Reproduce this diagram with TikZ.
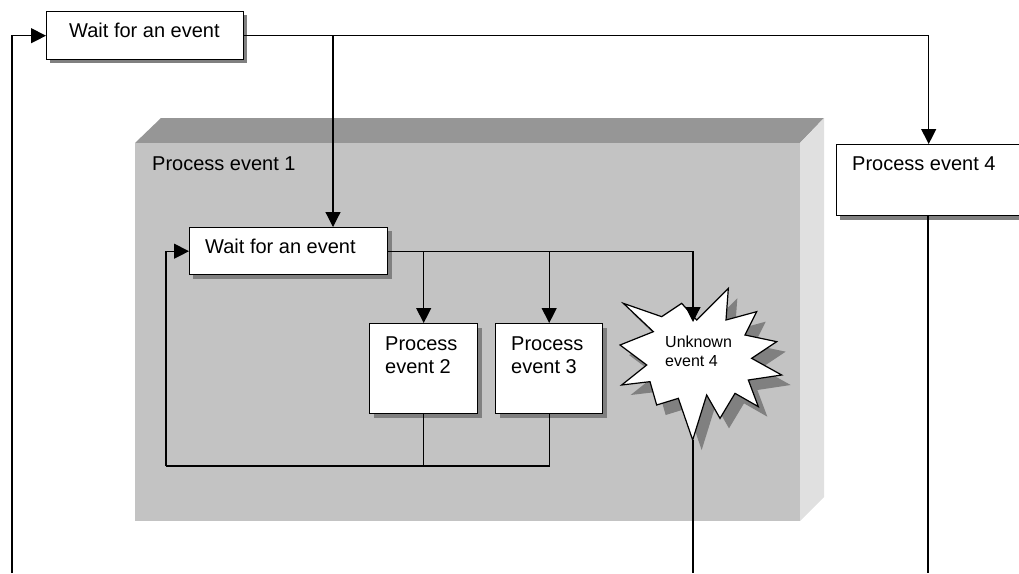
\documentclass[tikz,border=0pt]{standalone}
\usepackage{fontspec}
\setmainfont{Liberation Sans}
\usetikzlibrary{arrows.meta}
\definecolor{faceFront}{HTML}{C3C3C3}
\definecolor{faceTop}{HTML}{969696}
\definecolor{faceSide}{HTML}{E0E0E0}
\definecolor{dropgray}{HTML}{808080}
\tikzset{
  box/.style={draw=black, line width=1.4pt, fill=white, rectangle, inner sep=0pt, anchor=north west},
  boxshadow/.style={fill=dropgray, draw=none},
  txt/.style={inner sep=0pt, anchor=base west, font=\fontsize{20}{23}\selectfont},
  smalltxt/.style={inner sep=0pt, anchor=base west, font=\fontsize{16}{19}\selectfont, align=left},
  conn/.style={draw=black, line width=1.2pt},
  arr/.style={conn, -{Triangle[length=15pt,width=15pt]}},
}
\begin{document}
\begin{tikzpicture}[x=1pt,y=-1pt]
\useasboundingbox (0,0) rectangle (1019,573);

% raised panel: top, side and front faces
\fill[faceTop] (135,143) -- (161,118) -- (824,118) -- (800,143) -- cycle;
\fill[faceSide] (800,143) -- (824,118) -- (824,497) -- (800,521) -- cycle;
\fill[faceFront] (135,143) rectangle (800,521);
\node[txt] (p1t) at (152,170) {Process event 1};

% box shadows
\fill[boxshadow] (50,15) rectangle (247,63);
\fill[boxshadow] (193,231) rectangle (392,279);
\fill[boxshadow] (374,328) rectangle (482,418);
\fill[boxshadow] (500,328) rectangle (607,418);
\fill[boxshadow] (840,148) rectangle (1022,220);

% boxes
\node[box, minimum width=197pt, minimum height=48pt] (w0) at (46,11) {};
\node[txt] (w0t) at (69,37) {Wait for an event};
\node[box, minimum width=198pt, minimum height=47pt] (w1) at (189,227) {};
\node[txt] (w1t) at (205,253) {Wait for an event};
\node[box, minimum width=108pt, minimum height=90pt] (p2) at (369,323) {};
\node[txt, align=left] (p2t) at (385,373) {Process\\event 2};
\node[box, minimum width=107pt, minimum height=90pt] (p3) at (495,323) {};
\node[txt, align=left] (p3t) at (511,373) {Process\\event 3};
\node[box, minimum width=184pt, minimum height=71pt] (p4) at (836,144) {};
\node[txt] (p4t) at (852,170) {Process event 4};

% starburst for the unknown event
\begin{scope}[shift={(600,270)}, scale=1/3]
  \def\starpath{(70,100) -- (185,140) -- (245,100) -- (290,150) -- (385,55) -- (378,150)
    -- (470,125) -- (435,195) -- (530,215) -- (455,265) -- (545,315) -- (445,330)
    -- (475,410) -- (405,370) -- (360,445) -- (320,375) -- (278,510) -- (235,385)
    -- (170,405) -- (150,335) -- (65,345) -- (140,285) -- (60,225) -- (160,185) -- cycle}
  \fill[dropgray, shift={(27,30)}] \starpath;
  \filldraw[fill=white, draw=black, line width=1.2pt] \starpath;
\end{scope}
\coordinate (ut) at (693,322);
\coordinate (ub) at (693,440);
\node[smalltxt] (ux) at (665,366) {Unknown\\event 4};

% outer loop connectors
\coordinate (lb) at (12,573);
\coordinate (ob) at (928,573);
\coordinate (sb) at (693,573);
\draw[arr] (lb) |- (w0.west);
\draw[arr] (w0.east) -| (p4.north);
\draw[arr] (w0.east -| 333,0) -- (w1.north -| 333,0);
\draw[conn] (p4.south -| 928,0) -- (ob);
\draw[conn] (ub) -- (sb);

% inner loop connectors
\draw[arr] (w1.east) -| (ut);
\draw[arr] (w1.east -| p2.north) -- (p2.north);
\draw[arr] (w1.east -| p3.north) -- (p3.north);
\coordinate (lc) at (166,466);
\draw[conn] (p2.south) -- (p2.south |- lc);
\draw[conn] (p3.south) -- (p3.south |- lc) -- (lc);
\draw[arr] (lc) |- (w1.west);
\end{tikzpicture}
\end{document}
